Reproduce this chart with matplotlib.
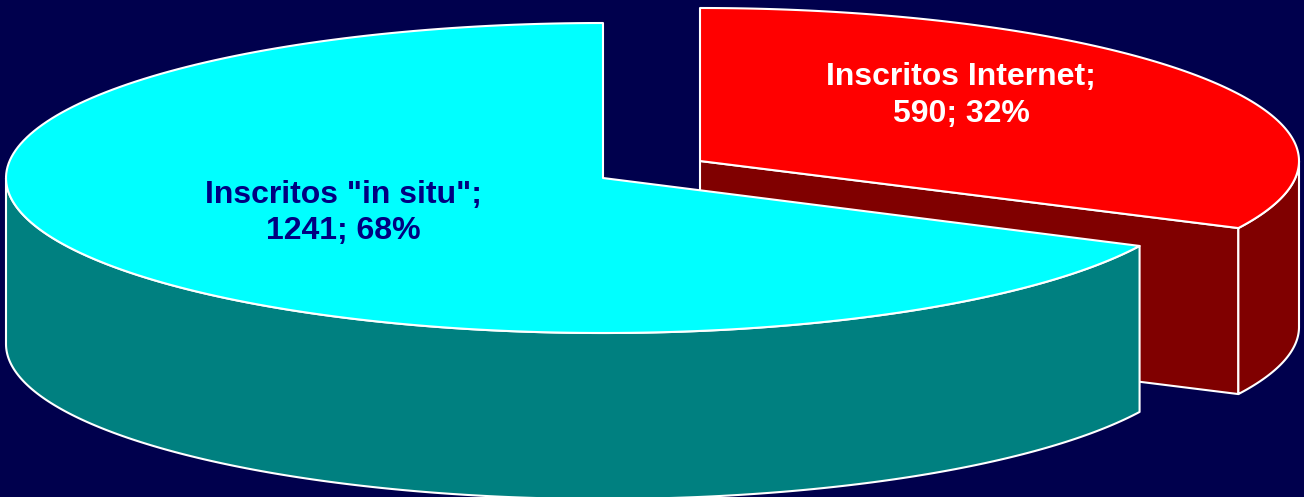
import numpy as np
import matplotlib
matplotlib.use('Agg')
import matplotlib.pyplot as plt
from matplotlib.patches import Polygon

# Data
labels = ['Inscritos Internet', 'Inscritos "in situ"']
values = [590, 1241]
percents = [32, 68]

total = sum(values)
split_angle = np.radians(360 * values[0] / total)


def rim(cx, cy, a, b, start, end, n=200):
    """Points on the ellipse, angles clockwise from 12 o'clock"""
    t = np.linspace(start, end, n)
    return np.column_stack([cx + a * np.sin(t), cy - b * np.cos(t)])


def draw_slice(ax, cx, cy, a, b, depth, start, end, top_color, side_color, radial_wall=False):
    """Draw one extruded slice: walls first, then the top face"""
    edge = dict(edgecolor='white', linewidth=1.5, joinstyle='round')
    if radial_wall:
        tip = rim(cx, cy, a, b, end, end, 1)[0]
        wall = [(cx, cy), tip, (tip[0], tip[1] + depth), (cx, cy + depth)]
        ax.add_patch(Polygon(wall, closed=True, facecolor=side_color, **edge))
    # outer wall only for the front half of the ellipse
    w0 = max(start, np.pi / 2)
    w1 = min(end, 3 * np.pi / 2)
    upper = rim(cx, cy, a, b, w0, w1)
    lower = upper[::-1] + [0, depth]
    ax.add_patch(Polygon(np.vstack([upper, lower]), closed=True, facecolor=side_color, **edge))
    top = np.vstack([[(cx, cy)], rim(cx, cy, a, b, start, end)])
    ax.add_patch(Polygon(top, closed=True, facecolor=top_color, **edge))


fig = plt.figure(figsize=(13.04, 4.97), dpi=100, facecolor='#00004d')
ax = fig.add_axes([0, 0, 1, 1])
ax.set_xlim(0, 1304)
ax.set_ylim(497, 0)
ax.axis('off')

# Red slice sits behind the cyan one
draw_slice(ax, 700, 161, 599, 153, 166, 0, split_angle, '#ff0000', '#800000', radial_wall=True)
draw_slice(ax, 603, 178, 597, 155, 166, split_angle, 2 * np.pi, '#00ffff', '#008080')

font = dict(family='Liberation Sans', fontweight='bold', fontsize=23, ha='center', va='center')
ax.text(961, 77, labels[0] + ';', color='white', **font)
ax.text(961, 114, f'{values[0]}; {percents[0]}%', color='white', **font)
ax.text(343, 195, labels[1] + ';', color='#000080', **font)
ax.text(343, 231, f'{values[1]}; {percents[1]}%', color='#000080', **font)

plt.savefig('out.png', dpi=100, facecolor=fig.get_facecolor())
